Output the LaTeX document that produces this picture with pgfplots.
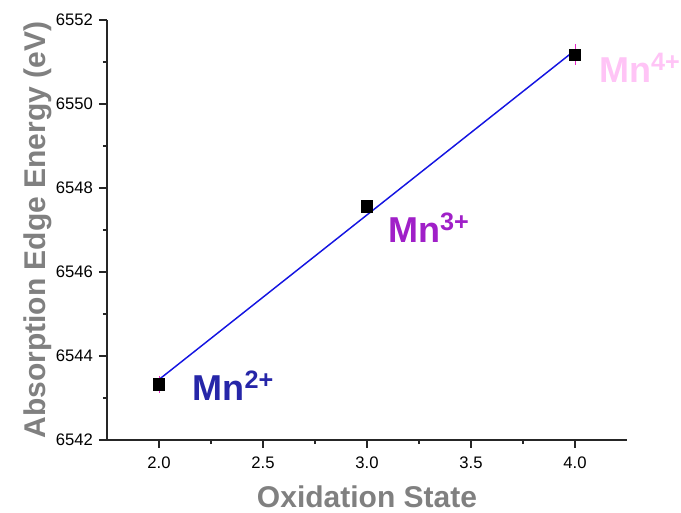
\documentclass[border=0pt]{standalone}
\usepackage{fontspec}
\setmainfont{Liberation Sans}
\usepackage{pgfplots}
\pgfplotsset{compat=1.18}

\definecolor{fitblue}{RGB}{20,20,225}
\definecolor{labgray}{RGB}{128,128,128}
\definecolor{mntwo}{RGB}{38,38,168}
\definecolor{mnthree}{RGB}{160,32,200}
\definecolor{mnfour}{RGB}{255,196,246}
\definecolor{errmag}{RGB}{230,40,200}

\begin{document}
\begin{tikzpicture}[x=0.75pt,y=0.75pt]
\useasboundingbox (-107,-72) rectangle (574,440);
\begin{axis}[
  at={(0,0)}, anchor=south west,
  scale only axis,
  width=390pt, height=315pt,
  xmin=1.75, xmax=4.25,
  ymin=6542, ymax=6552,
  axis x line*=bottom, axis y line*=left,
  axis line style={-, line width=0.9pt, black!85},
  xtick={2,2.5,3,3.5,4},
  ytick={6542,6544,6546,6548,6550,6552},
  minor x tick num=1, minor y tick num=1,
  tick align=outside,
  major tick length=6pt, minor tick length=3pt,
  tick style={line width=0.9pt, black!85},
  /pgf/number format/assume math mode=true,
  xticklabel style={/pgf/number format/.cd, fixed, fixed zerofill, precision=1, /tikz/.cd, yshift=-3pt},
  yticklabel style={/pgf/number format/.cd, 1000 sep={}, /tikz/.cd, xshift=-1pt},
  ticklabel style={font=\fontsize{12.5}{14}\selectfont},
  xlabel={Oxidation State},
  ylabel={Absorption Edge Energy (eV)},
  label style={font=\fontsize{22.5}{26}\selectfont\bfseries, text=labgray},
  xlabel style={yshift=-6pt},
  ylabel style={yshift=-4pt},
  clip=false,
]
% linear fit through the three edge positions
\addplot[fitblue, line width=1.1pt] coordinates {(2,6543.44) (4,6551.28)};
% measured edge energies
\addplot[only marks, mark=square*, mark size=4.3pt, mark options={fill=black, draw=black}]
  coordinates {(2,6543.33) (3,6547.57) (4,6551.17)};
% uncertainty of each edge position
\addplot[only marks, mark=none, draw=none,
  error bars/.cd, y dir=both, y explicit, error mark=none,
  error bar style={errmag, line width=0.7pt}]
  coordinates {(2,6543.33) +- (0,0.2) (3,6547.57) +- (0,0.05) (4,6551.17) +- (0,0.25)};
\node[anchor=base west, text=mntwo, font=\fontsize{27}{30}\selectfont\bfseries, inner sep=0pt]
  at (axis cs:2.16,6542.95) {Mn\textsuperscript{2+}};
\node[anchor=base west, text=mnthree, font=\fontsize{27}{30}\selectfont\bfseries, inner sep=0pt]
  at (axis cs:3.10,6546.71) {Mn\textsuperscript{3+}};
\node[anchor=base west, text=mnfour, font=\fontsize{27}{30}\selectfont\bfseries, inner sep=0pt]
  at (axis cs:4.115,6550.52) {Mn\textsuperscript{4+}};
\end{axis}
\end{tikzpicture}
\end{document}
